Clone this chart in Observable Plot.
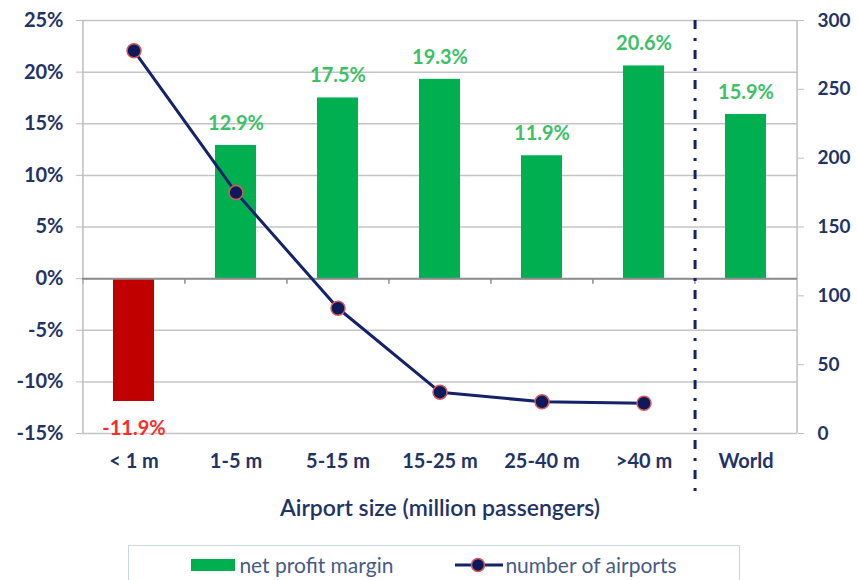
<!DOCTYPE html>
<html>
<head>
<meta charset="utf-8">
<script src="https://cdn.jsdelivr.net/npm/d3@7"></script>
<script src="https://cdn.jsdelivr.net/npm/@observablehq/plot@0.6"></script>
<style>
  html, body { margin: 0; padding: 0; background: #fff; }
  body { font-family: Lato, "Open Sans", sans-serif; width: 857px; height: 580px; overflow: hidden; position: relative; }
  #legend {
    position: absolute; left: 128px; top: 545px; width: 612px; height: 50px;
    border: 1.5px solid #c9d6ea; box-sizing: border-box;
    display: flex; align-items: flex-start; justify-content: center; padding-top: 6px;
    font-size: 21px; color: #465b85;
  }
  .item { display: flex; align-items: center; }
  .swatch { width: 44px; height: 12px; background: #00b050; margin-right: 4px; }
</style>
</head>
<body>
<div id="chart"></div>
<div id="legend">
  <div class="item" style="margin-right:62px"><span class="swatch"></span><span>net profit margin</span></div>
  <div class="item"><svg width="48" height="16" style="margin-right:2px"><line x1="0" y1="8" x2="48" y2="8" stroke="#14226a" stroke-width="3"/><circle cx="23" cy="8" r="6.5" fill="#0c1a5c" stroke="#d85a5a" stroke-width="1.5"/></svg><span>number of airports</span></div>
</div>
<script>
// ---- data ----
const categories = ["< 1 m", "1-5 m", "5-15 m", "15-25 m", "25-40 m", ">40 m", "World"];
const marginPct = [-11.9, 12.9, 17.5, 19.3, 11.9, 20.6, 15.9];
const airportCats = ["< 1 m", "1-5 m", "5-15 m", "15-25 m", "25-40 m", ">40 m"];
const airportCounts = [278, 175, 91, 30, 23, 22];
const leftTicks = [-15, -10, -5, 0, 5, 10, 15, 20, 25];
const rightTicks = [0, 50, 100, 150, 200, 250, 300];
const xTitle = "Airport size (million passengers)";

// ---- derived tables ----
const bars = categories.map((c, i) => ({cat: c, value: marginPct[i]}));
const counts = airportCats.map((c, i) => ({cat: c, count: airportCounts[i]}));

// right axis (0..300) mapped onto left axis (-15..25)
const yMin = -15, yMax = 25, rMax = 300;
const toY = v => yMin + v * (yMax - yMin) / rMax;
const fromY = y => (y - yMin) * rMax / (yMax - yMin);

const W = 857, H = 545, mL = 82, mR = 60, mT = 20, mB = 112;
const step = (W - mL - mR) / categories.length;
const navy = "#1f3466";
const lineNavy = "#14226a";

const chart = Plot.plot({
  width: W, height: H,
  marginLeft: mL, marginRight: mR, marginTop: mT, marginBottom: mB,
  style: {fontFamily: "Lato, 'Open Sans', sans-serif", background: "#fff", overflow: "visible"},
  x: {type: "band", domain: categories, paddingInner: 0.6, paddingOuter: 0.3, axis: null},
  y: {domain: [yMin, yMax], axis: null},
  marks: [
    Plot.gridY(leftTicks, {stroke: "#c4c4c4", strokeOpacity: 1, strokeWidth: 1.5}),
    // category boundary ticks on the zero line
    Plot.ruleX(categories, {x: d => d, dx: -step / 2, y1: 0, y2: -0.55, stroke: "#8c8c8c", strokeWidth: 1.5}),
    // axis lines
    Plot.ruleX([categories[0]], {x: d => d, dx: -step / 2, y1: yMin, y2: yMax, stroke: "#bdbdbd", strokeWidth: 1.5}),
    Plot.ruleX([categories[categories.length - 1]], {x: d => d, dx: step / 2, y1: yMin, y2: yMax, stroke: "#bdbdbd", strokeWidth: 1.5}),
    Plot.barY(bars, {x: "cat", y: "value", fill: d => d.value < 0 ? "#c00000" : "#00b050"}),
    Plot.ruleY([0], {stroke: "#8c8c8c", strokeWidth: 2}),
    Plot.text(bars.filter(d => d.value >= 0), {x: "cat", y: "value", text: d => d.value.toFixed(1) + "%", dy: -22, fill: "#3cc066", fontSize: 20, fontWeight: "bold"}),
    Plot.text(bars.filter(d => d.value < 0), {x: "cat", y: "value", text: d => d.value.toFixed(1) + "%", dy: 27, fill: "#ff2a2a", fontSize: 20, fontWeight: "bold"}),
    // separator before World
    Plot.ruleX([categories[categories.length - 2]], {x: d => d, dx: step / 2, y1: yMax, y2: yMin - 6.5, stroke: lineNavy, strokeWidth: 3, strokeDasharray: "9,9,3,9"}),
    Plot.line(counts, {x: "cat", y: d => toY(d.count), stroke: lineNavy, strokeWidth: 3}),
    Plot.dot(counts, {x: "cat", y: d => toY(d.count), r: 7, fill: "#0c1a5c", stroke: "#d85a5a", strokeWidth: 1.5}),
    Plot.axisY(leftTicks, {anchor: "left", tickSize: 6, tickPadding: 13, stroke: "#bdbdbd", fill: navy, fontSize: 20, fontWeight: "bold", tickFormat: d => d + "%", label: null}),
    Plot.axisY(rightTicks.map(toY), {anchor: "right", tickSize: 6, tickPadding: 14, stroke: "#bdbdbd", fill: navy, fontSize: 19, fontWeight: "bold", tickFormat: d => String(Math.round(fromY(d))), label: null}),
    Plot.axisX({anchor: "bottom", tickSize: 0, tickPadding: 20, fill: navy, fontSize: 20, fontWeight: "bold", label: null}),
    Plot.text([xTitle], {frameAnchor: "bottom", dy: 82, fill: navy, fontSize: 23, fontWeight: 600})
  ]
});
document.getElementById("chart").appendChild(chart);
</script>
</body>
</html>
